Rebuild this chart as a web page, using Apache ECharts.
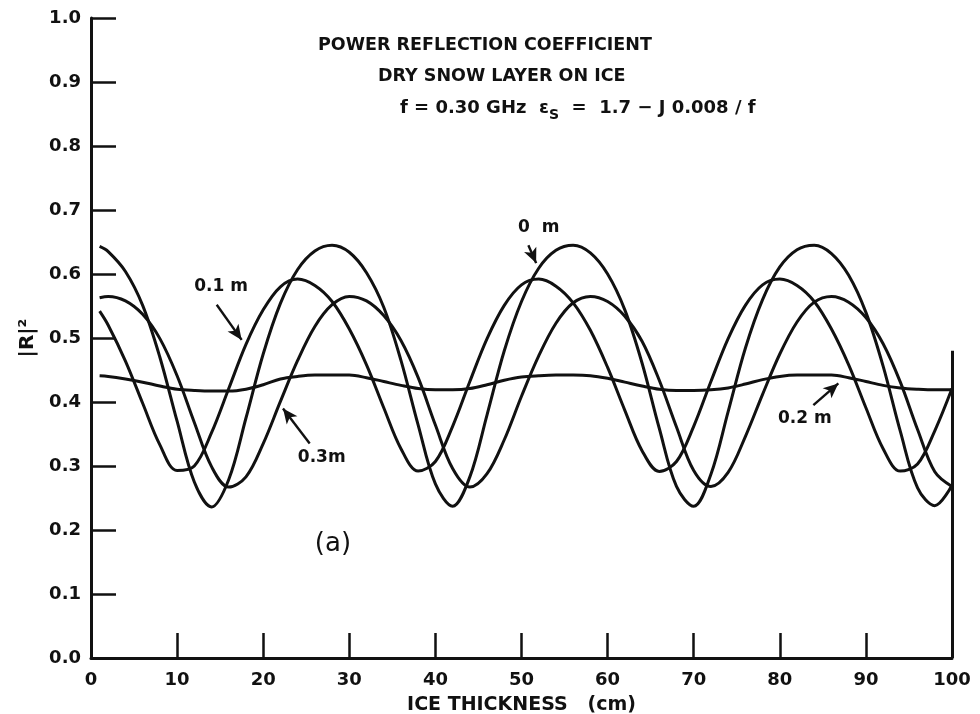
<!DOCTYPE html>
<html>
<head>
<meta charset="utf-8">
<script src="https://cdn.jsdelivr.net/npm/echarts@6/dist/echarts.min.js"></script>
<style>
html,body{margin:0;padding:0;background:#fff;}
#chart{width:980px;height:714px;}
</style>
</head>
<body>
<div id="chart"></div>
<script>
// ice thickness (cm)
const thickness = [1,2,4,6,8,10,12,14,16,18,20,22,24,26,28,30,32,34,36,38,40,42,44,46,48,50,52,54,56,58,60,62,64,66,68,70,72,74,76,78,80,82,84,86,88,90,92,94,96,98,100];
// |R|^2 for snow depth 0 m
const snow0m = [0.643,0.635,0.604,0.551,0.470,0.370,0.275,0.236,0.279,0.375,0.475,0.554,0.607,0.636,0.645,0.634,0.602,0.548,0.465,0.364,0.272,0.237,0.283,0.380,0.480,0.557,0.609,0.637,0.645,0.633,0.600,0.544,0.461,0.359,0.268,0.237,0.287,0.385,0.484,0.560,0.611,0.638,0.645,0.632,0.598,0.540,0.456,0.354,0.266,0.238,0.270];
// snow depth 0.1 m
const snow01m = [0.542,0.520,0.464,0.398,0.333,0.293,0.300,0.352,0.421,0.490,0.544,0.580,0.592,0.582,0.557,0.514,0.458,0.391,0.327,0.292,0.307,0.362,0.432,0.499,0.551,0.583,0.592,0.581,0.555,0.512,0.454,0.387,0.324,0.2915,0.307,0.362,0.432,0.499,0.551,0.583,0.592,0.582,0.557,0.514,0.458,0.391,0.327,0.292,0.303,0.355,0.421];
// snow depth 0.2 m
const snow02m = [0.441,0.440,0.436,0.431,0.425,0.420,0.418,0.417,0.417,0.420,0.427,0.436,0.440,0.442,0.442,0.442,0.438,0.432,0.426,0.421,0.419,0.419,0.421,0.427,0.434,0.439,0.441,0.442,0.442,0.441,0.437,0.431,0.425,0.420,0.418,0.418,0.419,0.422,0.428,0.435,0.440,0.442,0.442,0.442,0.438,0.432,0.426,0.422,0.420,0.419,0.419];
// snow depth 0.3 m
const snow03m = [0.563,0.565,0.558,0.537,0.499,0.441,0.368,0.299,0.267,0.283,0.335,0.401,0.465,0.518,0.552,0.565,0.558,0.535,0.496,0.438,0.364,0.296,0.267,0.288,0.341,0.409,0.472,0.523,0.555,0.565,0.557,0.534,0.495,0.434,0.361,0.293,0.268,0.290,0.346,0.412,0.475,0.525,0.556,0.565,0.556,0.532,0.491,0.431,0.357,0.291,0.268];
const curveNames = ['0 m','0.1 m','0.2 m','0.3m'];
const xTicks = [0,10,20,30,40,50,60,70,80,90,100];
const yTicks = [0.0,0.1,0.2,0.3,0.4,0.5,0.6,0.7,0.8,0.9,1.0];

const FONT = 'DejaVu Sans';
const INK = '#111';

function pairs(ys){ return thickness.map((x,i)=>[x, ys[i]]); }

function lineSeries(name, ys, extra){
  return Object.assign({
    name: name,
    type: 'line',
    data: pairs(ys),
    smooth: 0.35,
    showSymbol: false,
    symbol: 'none',
    lineStyle: {color: INK, width: 3},
    animation: false,
    z: 3
  }, extra || {});
}

const arrowLine = (from, to) => [
  {coord: from, symbol: 'none'},
  {coord: to, symbol: 'arrow', symbolSize: [10, 15]}
];

const labelPoint = (txt, coord, size, weight) => ({
  coord: coord, value: txt, symbol: 'circle', symbolSize: 0,
  label: {show: true, position: 'inside', formatter: txt, fontFamily: FONT,
    fontSize: size || 17, fontWeight: weight || 'bold', color: INK}
});

const txt = (s, extra) => Object.assign({fontFamily: FONT, fontSize: s, fontWeight: 'bold', color: INK}, extra || {});

const chart = echarts.init(document.getElementById('chart'), null, {renderer: 'canvas'});
const option = {
  backgroundColor: '#fff',
  animation: false,
  title: [
    {text: 'POWER REFLECTION COEFFICIENT', left: 318, top: 36, padding: 0, textStyle: txt(17.5)},
    {text: 'DRY SNOW LAYER ON ICE', left: 378, top: 67, padding: 0, textStyle: txt(17.5)},
    {text: 'f = 0.30 GHz  ε{s|S}  =  1.7 − J 0.008 / f', left: 400, top: 94, padding: 0,
     textStyle: txt(18, {rich: {s: txt(14, {padding: [14,0,0,0]})}})}
  ],
  grid: {left: 91, right: 28, top: 18, bottom: 56, containLabel: false, outerBoundsMode: 'none'},
  xAxis: {
    type: 'value', min: 0, max: 100, interval: 10,
    name: 'ICE THICKNESS   (cm)', nameLocation: 'middle', nameGap: 38,
    nameTextStyle: txt(19),
    axisLine: {show: true, onZero: false, lineStyle: {color: INK, width: 3}},
    axisTick: {show: true, inside: true, length: 25, lineStyle: {color: INK, width: 2.5}},
    axisLabel: txt(18, {margin: 13}),
    splitLine: {show: false}
  },
  yAxis: {
    type: 'value', min: 0, max: 1, interval: 0.1,
    name: '|R|²', nameLocation: 'middle', nameGap: 52, nameRotate: 90,
    nameTextStyle: txt(20),
    axisLine: {show: true, onZero: false, lineStyle: {color: INK, width: 3}},
    axisTick: {show: true, inside: true, length: 25, lineStyle: {color: INK, width: 2.5}},
    axisLabel: txt(18, {margin: 10, formatter: v => v.toFixed(1)}),
    splitLine: {show: false}
  },
  series: [
    lineSeries(curveNames[0], snow0m, {
      markLine: {silent: true, animation: false, symbol: ['none','none'],
        lineStyle: {color: INK, width: 2.4, type: 'solid'}, label: {show: false},
        data: [
          arrowLine([50.8, 0.645], [51.7, 0.617]),
          [{coord: [100, 0], symbol: 'none', lineStyle: {width: 3}}, {coord: [100, 0.48], symbol: 'none'}]
        ]},
      markPoint: {silent: true, animation: false, data: [labelPoint('0  m', [52.0, 0.673])]}
    }),
    lineSeries(curveNames[1], snow01m, {
      markLine: {silent: true, animation: false, symbol: ['none','none'],
        lineStyle: {color: INK, width: 2.4, type: 'solid'}, label: {show: false},
        data: [arrowLine([14.6, 0.552], [17.5, 0.497])]},
      markPoint: {silent: true, animation: false, data: [labelPoint('0.1 m', [15.1, 0.58])]}
    }),
    lineSeries(curveNames[2], snow02m, {
      markLine: {silent: true, animation: false, symbol: ['none','none'],
        lineStyle: {color: INK, width: 2.4, type: 'solid'}, label: {show: false},
        data: [arrowLine([83.9, 0.395], [86.8, 0.429])]},
      markPoint: {silent: true, animation: false, data: [labelPoint('0.2 m', [82.9, 0.374])]}
    }),
    lineSeries(curveNames[3], snow03m, {
      markLine: {silent: true, animation: false, symbol: ['none','none'],
        lineStyle: {color: INK, width: 2.4, type: 'solid'}, label: {show: false},
        data: [arrowLine([25.4, 0.335], [22.3, 0.390])]},
      markPoint: {silent: true, animation: false, data: [
        labelPoint('0.3m', [26.8, 0.3125]),
        labelPoint('(a)', [28.1, 0.177], 26, 'normal')
      ]}
    })
  ]
};
chart.setOption(option);
</script>
</body>
</html>
